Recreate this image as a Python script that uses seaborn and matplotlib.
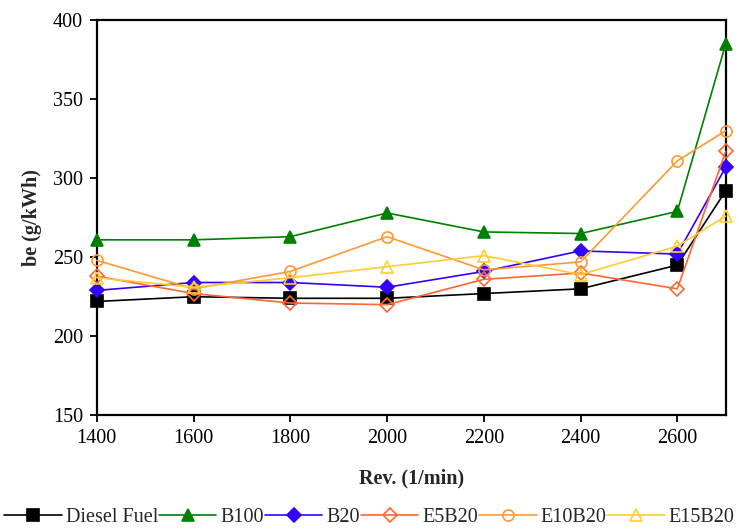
import numpy as np
import pandas as pd
import seaborn as sns
import matplotlib.pyplot as plt

rev = [1400, 1600, 1800, 2000, 2200, 2400, 2600, 2700]
diesel = [222, 225, 224, 224, 227, 230, 245, 292]
b100 = [261, 261, 263, 278, 266, 265, 279, 385]
b20 = [229, 234, 234, 231, 241, 254, 252, 307]
e5b20 = [238, 227, 221, 220, 236, 240, 230, 317]
e10b20 = [248, 230, 241, 263, 242, 247, 311, 330]
e15b20 = [237, 231, 237, 244, 251, 239, 257, 276]

fuels = ["Diesel Fuel", "B100", "B20", "E5B20", "E10B20", "E15B20"]
series = [diesel, b100, b20, e5b20, e10b20, e15b20]
colors = ["#000000", "#008000", "#3300ff", "#ff6633", "#ff9933", "#ffcc33"]
markers = ["s", "^", "D", "D", "o", "^"]
filled = [True, True, True, False, False, False]
msizes = [8, 9, 7, 7, 8, 9]

df = pd.DataFrame({
    "rev": rev * len(fuels),
    "be": sum(series, []),
    "fuel": np.repeat(fuels, len(rev)),
})

sns.set_theme(style="ticks")
plt.rcParams["font.family"] = ["Liberation Serif", "DejaVu Serif"]

fig = plt.figure(figsize=(7.39, 5.31), dpi=100)
ax = fig.add_axes([0.131, 0.218, 0.851, 0.744])

for fuel, col, mk, fl, ms in zip(fuels, colors, markers, filled, msizes):
    sub = df[df["fuel"] == fuel]
    sns.lineplot(data=sub, x="rev", y="be", ax=ax, color=col, linewidth=1.2,
                 marker=mk, markersize=ms,
                 markerfacecolor=col if fl else "none",
                 markeredgecolor=col, markeredgewidth=1.2,
                 label=fuel, alpha=1.0, clip_on=False, zorder=3)

ax.set_xlim(1400, 2700)
ax.set_ylim(150, 400)
ax.set_xticks([1400, 1600, 1800, 2000, 2200, 2400, 2600])
ax.set_yticks([150, 200, 250, 300, 350, 400])
ax.tick_params(axis="both", labelsize=14.5, direction="out", length=5, width=1.3,
               colors="black", pad=5)
for s in ax.spines.values():
    s.set_linewidth(1.6)
    s.set_color("black")
ax.set_xlabel("Rev. (1/min)", fontsize=14.5, fontweight="bold", labelpad=15)
ax.set_ylabel("be (g/kWh)", fontsize=14.5, fontweight="bold", labelpad=8)

handles, labels = ax.get_legend_handles_labels()
ax.get_legend().remove()
fig.legend(handles, labels, loc="lower center", bbox_to_anchor=(0.5, -0.015), ncol=6,
           frameon=False, fontsize=14.5, handlelength=2.85, handletextpad=0.2,
           columnspacing=0.05, borderaxespad=0.2)

fig.savefig("out.png", dpi=100)
